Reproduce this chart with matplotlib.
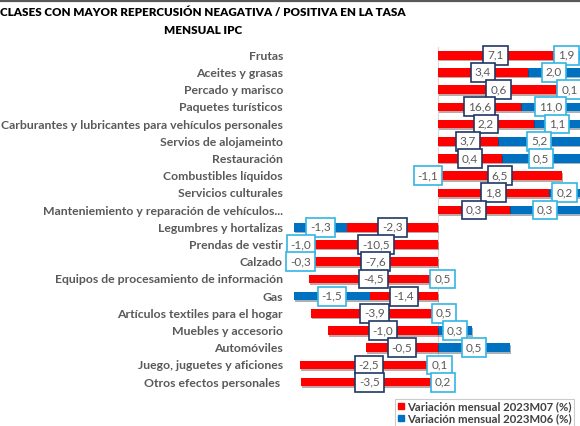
import numpy as np
import matplotlib
matplotlib.use("Agg")
import matplotlib.pyplot as plt
from matplotlib.lines import Line2D
import matplotlib.patheffects as pe

# categories, top to bottom
categories = [
    "Frutas", "Aceites y grasas", "Percado y marisco", "Paquetes turísticos",
    "Carburantes y lubricantes para vehículos personales", "Servios de alojameinto",
    "Restauración", "Combustibles líquidos", "Servicios culturales",
    "Manteniemiento y reparación de vehículos...", "Legumbres y hortalizas",
    "Prendas de vestir", "Calzado", "Equipos de procesamiento de información", "Gas",
    "Artículos textiles para el hogar", "Muebles y accesorio", "Automóviles",
    "Juego, juguetes y aficiones", "Otros efectos personales ",
]

# variación mensual (%) shown in the labels
var_m07 = [7.1, 3.4, 0.6, 16.6, 2.2, 3.7, 0.4, 6.5, 1.8, 0.3,
           -2.3, -10.5, -7.6, -4.5, -1.4, -3.9, -1.0, -0.5, -2.5, -3.5]
var_m06 = [1.9, 2.0, 0.1, 11.0, 1.1, 5.2, 0.5, -1.1, 0.2, 0.3,
           -1.3, -1.0, -0.3, 0.5, -1.5, 0.5, 0.3, 0.5, 0.1, 0.2]

# repercusión (bar lengths, stacked)
rep_m07 = [0.115, 0.090, 0.121, 0.083, 0.096, 0.060, 0.064, 0.124, 0.111, 0.072,
           -0.091, -0.124, -0.125, -0.129, -0.068, -0.127, -0.110, -0.072, -0.138, -0.137]
rep_m06 = [0.044, 0.060, 0.036, 0.070, 0.060, 0.090, 0.085, -0.020, 0.040, 0.080,
           -0.053, -0.028, -0.027, 0.009, -0.076, 0.012, 0.034, 0.072, 0.003, 0.010]

legend_labels = ["Variación mensual 2023M07 (%)", "Variación mensual 2023M06 (%)"]

RED = "#FF0000"
BLUE = "#0070C0"
TXT = "#595959"
FONT = "Lato"

plt.rcParams["font.family"] = [FONT, "DejaVu Sans"]

fig = plt.figure(figsize=(5.8, 4.26), dpi=100)
ax = fig.add_axes([288 / 580, 1 - 390.8 / 426, 292 / 580, 344.2 / 426])

xmin, xmax = -0.150, 0.142
y = np.arange(len(categories))
r7 = np.array(rep_m07)
r6 = np.array(rep_m06)
left6 = np.where(np.sign(r6) == np.sign(r7), r7, 0.0)

shadow = [pe.SimplePatchShadow(offset=(0.8, -1.2), alpha=0.35), pe.Normal()]
ax.axvline(0, color="#D9D9D9", lw=0.8, zorder=1)
ax.barh(y, r6, left=left6, height=0.5, color=BLUE, zorder=2, path_effects=shadow)
ax.barh(y, r7, height=0.5, color=RED, zorder=3, path_effects=shadow)


def fmt(v):
    return f"{v:.1f}".replace(".", ",")


def vis_center(a, b):
    lo, hi = sorted((a, b))
    lo, hi = max(lo, xmin), min(hi, xmax)
    return (lo + hi) / 2


for i in range(len(categories)):
    ax.text(vis_center(0, r7[i]), y[i], fmt(var_m07[i]), ha="center", va="center",
            fontsize=8.5, color=TXT, zorder=5,
            bbox=dict(boxstyle="square,pad=0.33", fc="white", ec="#1F3864", lw=1.2))
    ax.text(vis_center(left6[i], left6[i] + r6[i]), y[i], fmt(var_m06[i]),
            ha="center", va="center", fontsize=8.5, color=TXT, zorder=6, clip_on=False,
            bbox=dict(boxstyle="square,pad=0.33", fc="white", ec="#33B5E5", lw=1.2))

ax.set_xlim(xmin, xmax)
ax.set_ylim(len(categories) - 0.5, -0.5)
ax.set_yticks(y)
ax.set_yticklabels(categories, fontsize=8.8, fontweight="bold", color=TXT)
ax.tick_params(axis="y", length=0, pad=3.6)
ax.set_xticks([])
for s in ax.spines.values():
    s.set_visible(False)
ax.patch.set_alpha(0)

fig.text(203 / 580, 1 - 12 / 426, "CLASES CON MAYOR REPERCUSIÓN NEAGATIVA / POSITIVA EN LA TASA",
         ha="center", va="center", fontsize=8.4, fontweight="heavy", color="black")
fig.text(203 / 580, 1 - 30 / 426, "MENSUAL IPC",
         ha="center", va="center", fontsize=8.4, fontweight="heavy", color="black")

fig.add_artist(Line2D([0, 1], [1 - 0.8 / 426] * 2, color="#595959", lw=1.6))

handles = [Line2D([], [], marker="s", ls="", color=c, markersize=5) for c in (RED, BLUE)]
leg = fig.legend(handles, legend_labels, loc="upper left",
                 bbox_to_anchor=(395 / 580, 1 - 399 / 426), frameon=True, fancybox=False,
                 handlelength=0.6, handletextpad=0.3, borderpad=0.2, labelspacing=0.1,
                 borderaxespad=0, prop={"size": 8.2, "weight": "bold"})
leg.get_frame().set_edgecolor("#BFBFBF")
leg.get_frame().set_linewidth(0.8)
for t in leg.get_texts():
    t.set_color("#404040")

fig.savefig("out.png", dpi=100)
